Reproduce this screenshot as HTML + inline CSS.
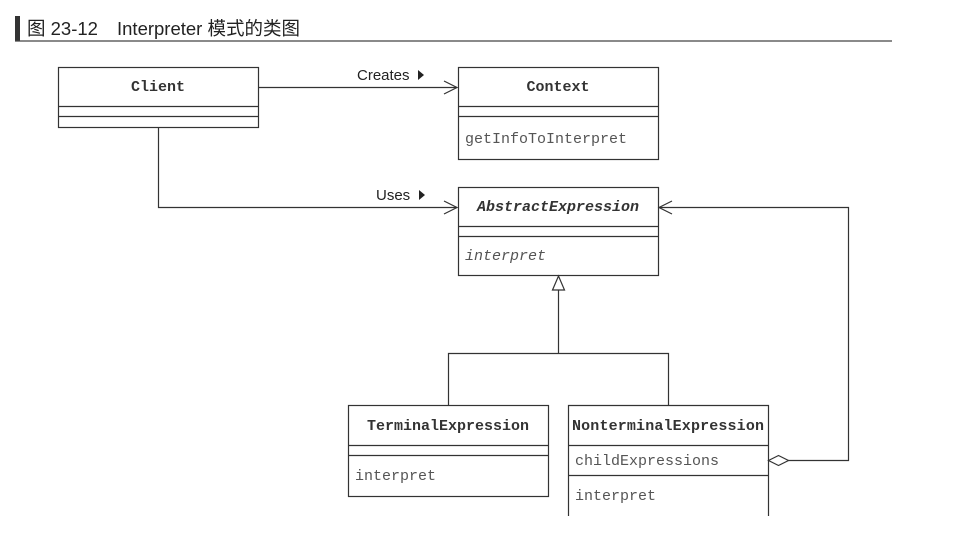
<!DOCTYPE html>
<html><head><meta charset="utf-8"><style>
body{margin:0;background:#fff;}
svg{display:block}
.m{font-family:"Liberation Mono",monospace;font-size:15px;fill:#555}
.b{font-family:"Liberation Mono",monospace;font-size:15px;font-weight:bold;fill:#333}
.s{font-family:"Liberation Sans",sans-serif;font-size:15px;fill:#222}
</style></head><body>
<svg width="961" height="539" viewBox="0 0 961 539">
<rect x="15" y="16" width="5" height="25" fill="#333"/>
<text x="27" y="35" font-family="'Liberation Sans','Noto Sans CJK SC',sans-serif" font-size="18.5" fill="#222">图 23-12</text>
<text x="117" y="35" font-family="'Liberation Sans','Noto Sans CJK SC',sans-serif" font-size="18.5" fill="#222">Interpreter 模式的类图</text>
<line x1="15" y1="41" x2="892" y2="41" stroke="#444" stroke-width="1.3"/>
<g fill="none" stroke="#333" stroke-width="1.2">
<rect x="58.5" y="67.5" width="200" height="60"/>
<line x1="58" y1="106.5" x2="258" y2="106.5"/><line x1="58" y1="116.5" x2="258" y2="116.5"/>
<rect x="458.5" y="67.5" width="200" height="92"/>
<line x1="458" y1="106.5" x2="658" y2="106.5"/><line x1="458" y1="116.5" x2="658" y2="116.5"/>
<rect x="458.5" y="187.5" width="200" height="88"/>
<line x1="458" y1="226.5" x2="658" y2="226.5"/><line x1="458" y1="236.5" x2="658" y2="236.5"/>
<rect x="348.5" y="405.5" width="200" height="91"/>
<line x1="348" y1="445.5" x2="548" y2="445.5"/><line x1="348" y1="455.5" x2="548" y2="455.5"/>
<path d="M568.5 516 V405.5 H768.5 V516"/>
<line x1="568" y1="445.5" x2="768" y2="445.5"/><line x1="568" y1="475.5" x2="768" y2="475.5"/>
<line x1="258" y1="87.5" x2="457" y2="87.5"/><path d="M444 81 L457 87.5 L444 94"/>
<path d="M158.5 127 V207.5 H457"/><path d="M444 201 L457 207.5 L444 214"/>
<path d="M552.5 290 L558.5 276 L564.5 290 Z"/>
<path d="M558.5 290 V353.5 M448.5 405 V353.5 H668.5 V405"/>
<path d="M768.5 460.5 L778.5 455.5 L788.5 460.5 L778.5 465.5 Z"/>
<path d="M788 460.5 H848.5 V207.5 H659"/><path d="M672 201 L659 207.5 L672 214"/>
</g>
<text x="158" y="91" text-anchor="middle" class="b">Client</text>
<text x="558" y="91" text-anchor="middle" class="b">Context</text>
<text x="558" y="211" text-anchor="middle" class="b" font-style="italic">AbstractExpression</text>
<text x="448" y="430" text-anchor="middle" class="b">TerminalExpression</text>
<text x="668" y="430" text-anchor="middle" class="b" textLength="192">NonterminalExpression</text>
<text x="465" y="143" class="m">getInfoToInterpret</text>
<text x="465" y="260" class="m" font-style="italic">interpret</text>
<text x="355" y="480" class="m">interpret</text>
<text x="575" y="465" class="m">childExpressions</text>
<text x="575" y="500" class="m">interpret</text>
<text x="357" y="80" class="s">Creates</text><path d="M418 70 L424 75 L418 80 Z" fill="#222"/>
<text x="376" y="200" class="s">Uses</text><path d="M419 190 L425 195 L419 200 Z" fill="#222"/>
</svg>
</body></html>
